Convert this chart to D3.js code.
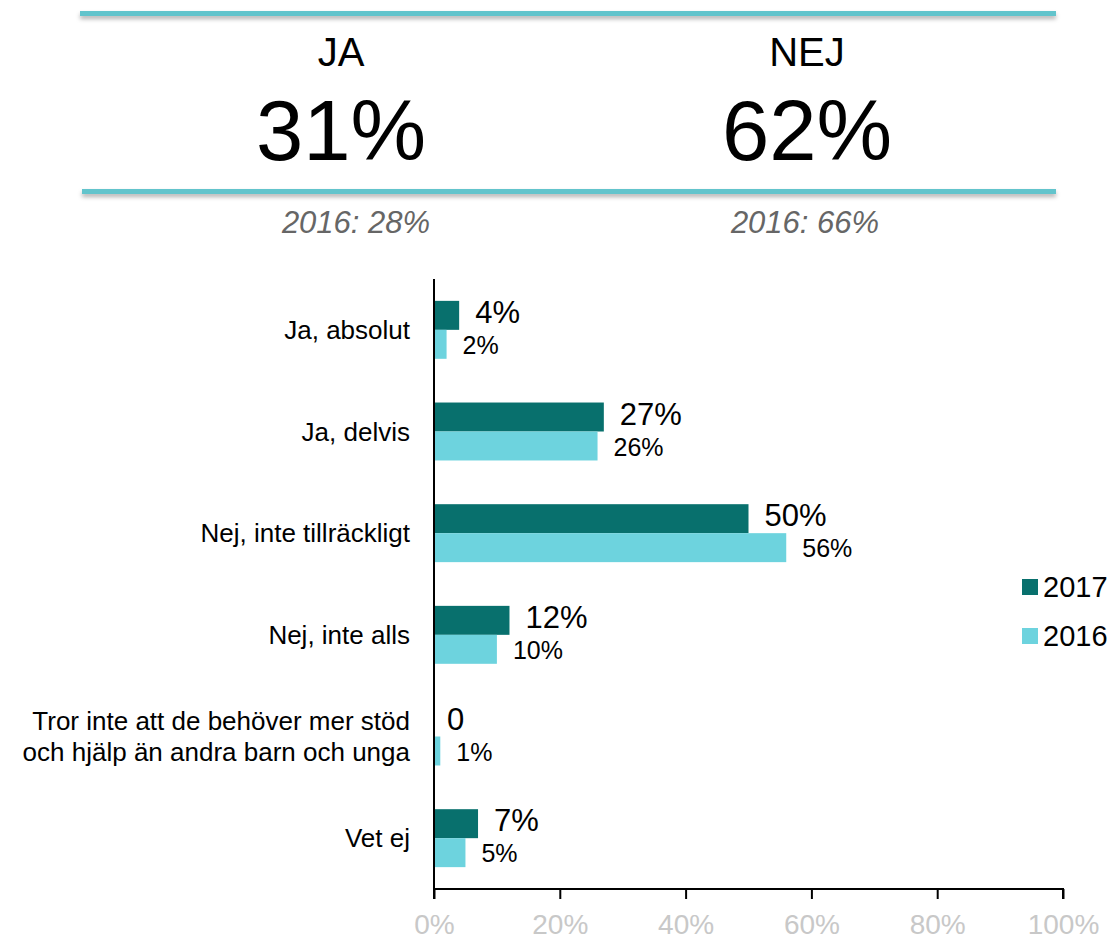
<!DOCTYPE html>
<html>
<head>
<meta charset="utf-8">
<script src="https://cdn.jsdelivr.net/npm/d3@7"></script>
<style>
  body { margin: 0; background: #fff; }
  svg { display: block; font-family: "Liberation Sans", Arial, sans-serif; }
</style>
</head>
<body>
<div id="chart-area"></div>
<script>
// data
var categories = ["Ja, absolut", "Ja, delvis", "Nej, inte tillräckligt", "Nej, inte alls",
  "Tror inte att de behöver mer stöd\noch hjälp än andra barn och unga", "Vet ej"];
var values2017 = [4, 27, 50, 12, 0, 7];
var values2016 = [2, 26, 56, 10, 1, 5];
var labels2017 = ["4%", "27%", "50%", "12%", "0", "7%"];
var labels2016 = ["2%", "26%", "56%", "10%", "1%", "5%"];
var seriesNames = ["2017", "2016"];
var xTicks = [0, 20, 40, 60, 80, 100];

var summaryTitles = ["JA", "NEJ"];
var summaryValues = ["31%", "62%"];
var summaryPrev = ["2016: 28%", "2016: 66%"];

var colors = {"2017": "#08706d", "2016": "#6dd3de"};

var W = 1109, H = 941;
var margin = {top: 279, left: 434, right: 46, bottom: 52};
var width = W - margin.left - margin.right,
    height = H - margin.top - margin.bottom;

var svg = d3.select("#chart-area").append("svg")
  .attr("width", W).attr("height", H);

// summary header
var defs = svg.append("defs");
var f = defs.append("filter").attr("id", "shadow")
  .attr("x", "-2%").attr("y", "-100%").attr("width", "104%").attr("height", "400%");
f.append("feDropShadow").attr("dx", 0).attr("dy", 3).attr("stdDeviation", 2)
  .attr("flood-color", "#000").attr("flood-opacity", 0.3);

var header = svg.append("g").attr("id", "header");
header.append("rect").attr("x", 80).attr("y", 11).attr("width", 976).attr("height", 5)
  .attr("fill", "#62c4cc").attr("filter", "url(#shadow)");
header.append("rect").attr("x", 82).attr("y", 189).attr("width", 974).attr("height", 5)
  .attr("fill", "#62c4cc").attr("filter", "url(#shadow)");

var colX = [341, 807];
var prevX = [356, 805];
summaryTitles.forEach(function(t, i) {
  header.append("text").attr("x", colX[i]).attr("y", 66)
    .attr("text-anchor", "middle").attr("font-size", 40).attr("fill", "#000")
    .text(t);
  header.append("text").attr("x", colX[i]).attr("y", 160)
    .attr("text-anchor", "middle").attr("font-size", 85).attr("fill", "#000")
    .text(summaryValues[i]);
  header.append("text").attr("x", prevX[i]).attr("y", 233)
    .attr("text-anchor", "middle").attr("font-size", 31).attr("font-style", "italic")
    .attr("fill", "#666").text(summaryPrev[i]);
});

// chart
var g = svg.append("g").attr("transform", "translate(" + margin.left + "," + margin.top + ")");

var xScale = d3.scaleLinear().domain([0, 100]).range([0, width]);
var yScale = d3.scaleBand().domain(categories).range([0, height]).paddingInner(0.43).paddingOuter(0.215);
var sub = d3.scaleBand().domain(seriesNames).range([0, yScale.bandwidth()]);

var rows = categories.map(function(c, i) {
  return {cat: c, v: {"2017": values2017[i], "2016": values2016[i]},
          l: {"2017": labels2017[i], "2016": labels2016[i]}};
});

var rowG = g.selectAll(".row").data(rows).enter().append("g")
  .attr("class", "row")
  .attr("transform", function(d) { return "translate(0," + yScale(d.cat) + ")"; });

seriesNames.forEach(function(s) {
  rowG.append("rect")
    .attr("x", 0)
    .attr("y", sub(s))
    .attr("width", function(d) { return xScale(d.v[s]); })
    .attr("height", sub.bandwidth())
    .attr("fill", colors[s]);
  rowG.append("text")
    .attr("x", function(d) { return xScale(d.v[s]) + (d.v[s] == 0 ? 13 : 16); })
    .attr("y", sub(s) + sub.bandwidth() / 2 + (s == "2017" ? 0 : 1))
    .attr("dy", s == "2017" ? "0.25em" : "0.35em")
    .attr("font-size", s == "2017" ? 31 : 25)
    .attr("fill", "#000")
    .text(function(d) { return d.l[s]; });
});

// category labels
g.selectAll(".cat-label").data(rows).enter().append("text")
  .attr("class", "cat-label")
  .attr("text-anchor", "end")
  .attr("font-size", 26)
  .attr("fill", "#000")
  .each(function(d) {
    var lines = d.cat.split("\n");
    var t = d3.select(this);
    var cy = yScale(d.cat) + yScale.bandwidth() / 2;
    lines.forEach(function(line, k) {
      t.append("tspan").attr("x", -24)
        .attr("y", cy + (k - (lines.length - 1) / 2) * 31)
        .attr("dy", "0.35em")
        .text(line);
    });
  });

// axes
var xAxis = d3.axisBottom(xScale).tickValues(xTicks).tickSize(10).tickPadding(15)
  .tickFormat(function(d) { return d + "%"; });
var xg = g.append("g").attr("class", "axis x-axis")
  .attr("transform", "translate(0," + height + ")").call(xAxis);
xg.select(".domain").attr("stroke", "#000").attr("stroke-width", 2).attr("d", "M0,10V0H" + width + "V10");
xg.selectAll(".tick line").attr("stroke", "#000").attr("stroke-width", 2);
xg.selectAll(".tick text").attr("font-size", 28).attr("fill", "#c8c8c8")
  .attr("font-family", "Liberation Sans, Arial, sans-serif");

g.append("line").attr("x1", 0).attr("x2", 0).attr("y1", 0).attr("y2", height)
  .attr("stroke", "#000").attr("stroke-width", 2);

// legend
var legend = svg.append("g").attr("transform", "translate(1022,575)");
seriesNames.forEach(function(s, i) {
  legend.append("rect").attr("x", 0).attr("y", i * 49 + 4).attr("width", 16).attr("height", 16)
    .attr("fill", colors[s]);
  legend.append("text").attr("x", 21).attr("y", i * 49 + 12).attr("dy", "0.35em")
    .attr("font-size", 29).attr("fill", "#000").text(s);
});
</script>
</body>
</html>
